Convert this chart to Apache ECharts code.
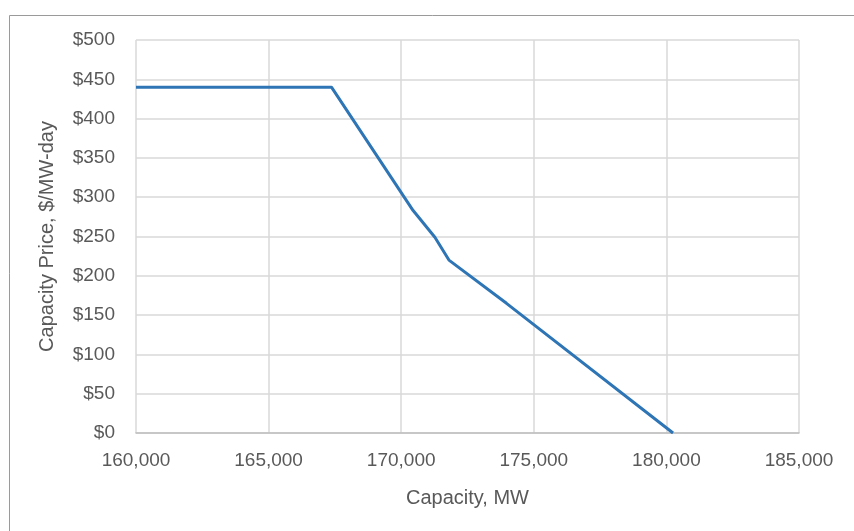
<!DOCTYPE html>
<html>
<head>
<meta charset="utf-8">
<script src="https://cdn.jsdelivr.net/npm/echarts@6/dist/echarts.min.js"></script>
<style>html,body{margin:0;padding:0;background:#fff}#c{width:854px;height:531px}</style>
</head>
<body>
<div id="c"></div>
<script>
const capacityMW = [160000, 167370, 170450, 171270, 171800, 173970, 180250];
const priceUSD = [440, 440, 283, 249, 220, 165, 0];
const xTicks = [160000, 165000, 170000, 175000, 180000, 185000];
const yTicks = [0, 50, 100, 150, 200, 250, 300, 350, 400, 450, 500];

const font = "'Liberation Sans', 'DejaVu Sans', sans-serif";
const chart = echarts.init(document.getElementById('c'), null, {renderer: 'canvas'});
chart.setOption({
  animation: false,
  backgroundColor: '#ffffff',
  graphic: [{
    type: 'rect', left: 7, top: 13, shape: {width: 900, height: 600},
    style: {fill: 'none', stroke: '#9a9a9a', lineWidth: 1}, silent: true
  }],
  grid: {left: 136, right: 55, top: 40, bottom: 98, containLabel: false},
  xAxis: {
    type: 'value', min: xTicks[0], max: xTicks[xTicks.length - 1], interval: 5000,
    name: 'Capacity, MW', nameLocation: 'middle', nameGap: 55,
    nameTextStyle: {color: '#595959', fontSize: 20, fontFamily: font},
    axisLine: {show: true, lineStyle: {color: '#bfbfbf', width: 1.5}},
    axisTick: {show: false},
    axisLabel: {color: '#595959', fontSize: 19, fontFamily: font, margin: 18,
      formatter: v => v.toLocaleString('en-US')},
    splitLine: {show: true, lineStyle: {color: '#d9d9d9', width: 1.5}}
  },
  yAxis: {
    type: 'value', min: yTicks[0], max: yTicks[yTicks.length - 1], interval: 50,
    name: 'Capacity Price, $/MW-day', nameLocation: 'middle', nameGap: 79,
    nameTextStyle: {color: '#595959', fontSize: 20, fontFamily: font},
    axisLine: {show: false},
    axisTick: {show: false},
    axisLabel: {color: '#595959', fontSize: 19, fontFamily: font, margin: 21,
      formatter: v => '$' + v},
    splitLine: {show: true, lineStyle: {color: '#d9d9d9', width: 1.5}}
  },
  series: [{
    type: 'line',
    data: capacityMW.map((x, i) => [x, priceUSD[i]]),
    showSymbol: false,
    lineStyle: {color: '#2E75B6', width: 3},
    itemStyle: {color: '#2E75B6'}
  }]
});
</script>
</body>
</html>
